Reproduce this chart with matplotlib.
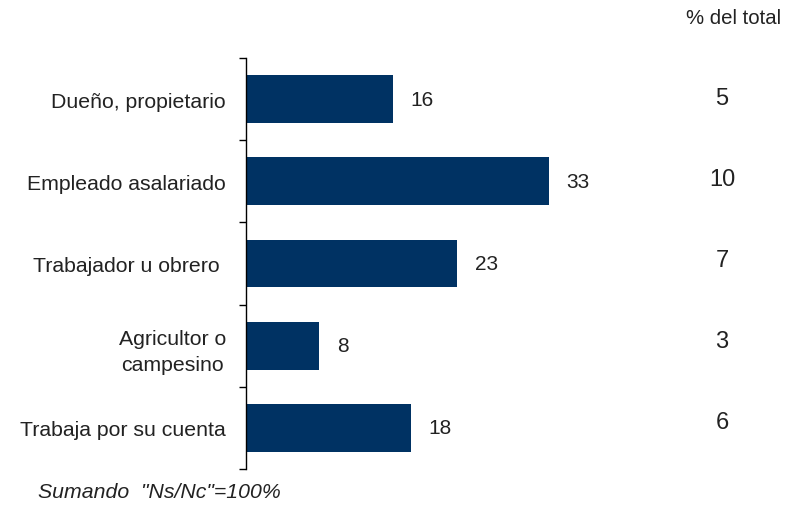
import matplotlib
matplotlib.use("Agg")
import matplotlib.pyplot as plt

categories = ["Dueño, propietario", "Empleado asalariado", "Trabajador u obrero ",
              "Agricultor o\ncampesino", "Trabaja por su cuenta"]
values = [16, 33, 23, 8, 18]
pct_total = [5, 10, 7, 3, 6]

plt.rcParams['font.family'] = ['Liberation Sans', 'DejaVu Sans']
bar_color = "#003263"
txt_color = "#222222"

fig = plt.figure(figsize=(7.87, 5.06), dpi=100)
ax = fig.add_axes([246/787, 1-470/506, (700-246)/787, (470-59)/506])

y = list(range(len(categories)))
ax.barh(y, values, height=0.58, color=bar_color)
ax.set_ylim(len(categories)-0.5, -0.5)
ax.set_xlim(0, (700-246)/9.18)

for yi, v in zip(y, values):
    ax.annotate(str(v), (v, yi), xytext=(12.5, 0), textcoords="offset points",
                ha="left", va="center", fontsize=15, color=txt_color)

# right-hand "% del total" column, spaced slightly tighter than the bars
for i, p in enumerate(pct_total):
    fig.text(722/787, 1-(99 + 81*i)/506, str(p), fontsize=17,
             ha="center", va="center", color=txt_color)

fig.text(734/787, 1-19/506, "% del total", ha="center", va="center",
         fontsize=14.7, color=txt_color)

ax.set_yticks(y)
ax.set_yticklabels(categories, fontsize=15.3, color=txt_color, ha="right",
                   multialignment="center")
for lbl in ax.get_yticklabels():
    lbl.set_linespacing(1.5)
ax.tick_params(axis="y", length=0, pad=14.5)
ax.set_yticks([i - 0.5 for i in range(len(categories)+1)], minor=True)
ax.tick_params(axis="y", which="minor", length=5, width=1, direction="out")
ax.set_xticks([])
for s in ["top", "right", "bottom"]:
    ax.spines[s].set_visible(False)
ax.spines["left"].set_linewidth(1)

fig.text(38/787, 1-493/506, 'Sumando  "Ns/Nc"=100%', fontsize=15.3, style="italic",
         ha="left", va="center", color=txt_color)

fig.savefig("out.png", dpi=100)
